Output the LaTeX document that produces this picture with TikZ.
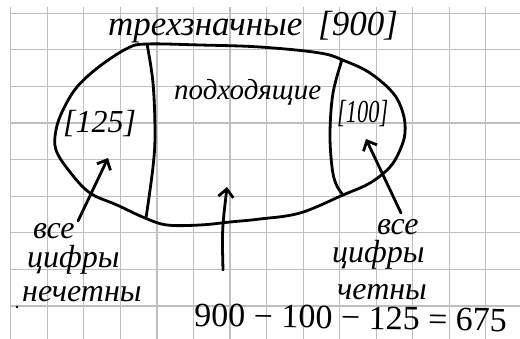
\documentclass[tikz,border=0pt]{standalone}
\usepackage{fontspec}
\setmainfont{Liberation Serif}
\usetikzlibrary{arrows.meta}
\begin{document}
\begin{tikzpicture}[x=1pt,y=-1pt,
  ink/.style={line width=2.8pt, line cap=round, line join=round, black},
  gridline/.style={line width=1.2pt, black!25},
  arr/.style={ink, -{Straight Barb[length=8pt,width=15pt]}},
  hand/.style={inner sep=0pt, anchor=base west, font=\itshape\fontsize{32}{28}\selectfont},
  digits/.style={inner sep=0pt, anchor=base west, font=\fontsize{34}{34}\selectfont},
  ]
\useasboundingbox[fill=white] (0,0) rectangle (520,339);
% grid paper
\foreach \k in {0,...,13} \draw[gridline] ({10.7+36.55*\k},7) -- ({10.7+36.55*\k},339);
\foreach \k in {0,...,8} \draw[gridline] (10,{13.3+36.6*\k}) -- (520,{13.3+36.6*\k});
% outer set
\draw[ink] plot[smooth cycle, tension=0.6] coordinates {
 (147,44) (200,45) (260,47) (320,53) (345,61) (370,73) (393,93) (403,113) (405,133)
 (400,150) (390,167) (370,183) (343,195) (300,213) (260,219) (230,222) (200,225)
 (167,225) (145,218) (117,205) (90,193) (70,172) (56,150) (56,130) (63,110)
 (77,87) (100,66) (128,48)};
% dividers
\draw[ink] plot[smooth, tension=0.6] coordinates {(147,44) (153,83) (155,133) (153,167) (146,218)};
\draw[ink] plot[smooth, tension=0.6] coordinates {(342,60) (333,93) (330,133) (332,167) (336,184) (343,195)};
% texts
\node[hand, font=\itshape\fontsize{35}{35}\selectfont] (title) at (108,36) {трехзначные\hspace{0.45em}[900]};
\node[hand] (b125) at (63,133) {[125]};
\node[hand, font=\itshape\fontsize{29}{29}\selectfont] (fit) at (174,100) {подходящие};
\node[hand] (b100) at (337,123) {\scalebox{0.7}[1]{[100]}};
\node[hand, align=left] (lodd) at (22,302)
  {\hspace*{11pt}все\\\hspace*{5pt}цифры\\[7pt]нечетны};
\node[hand, align=left] (reven) at (332,300)
  {\hspace*{45pt}все\\цифры\\[9pt]\hspace*{5pt}четны};
\node[digits, rotate=-1] (eq) at (194,326) {900 − 100 − 125 = 675};
% arrows
\coordinate (ltip) at (108,158);
\coordinate (ltail) at (78,221);
\coordinate (rtip) at (366,139);
\coordinate (rtail) at (401,213);
\coordinate (mtip) at (227,187);
\coordinate (mtail) at (223,270);
\draw[arr] (ltail) -- (ltip);
\draw[arr] (rtail) -- (rtip);
\draw[arr] (mtail) .. controls (222,230) .. (mtip);
\fill (17,307) circle (1.3);
\end{tikzpicture}
\end{document}
